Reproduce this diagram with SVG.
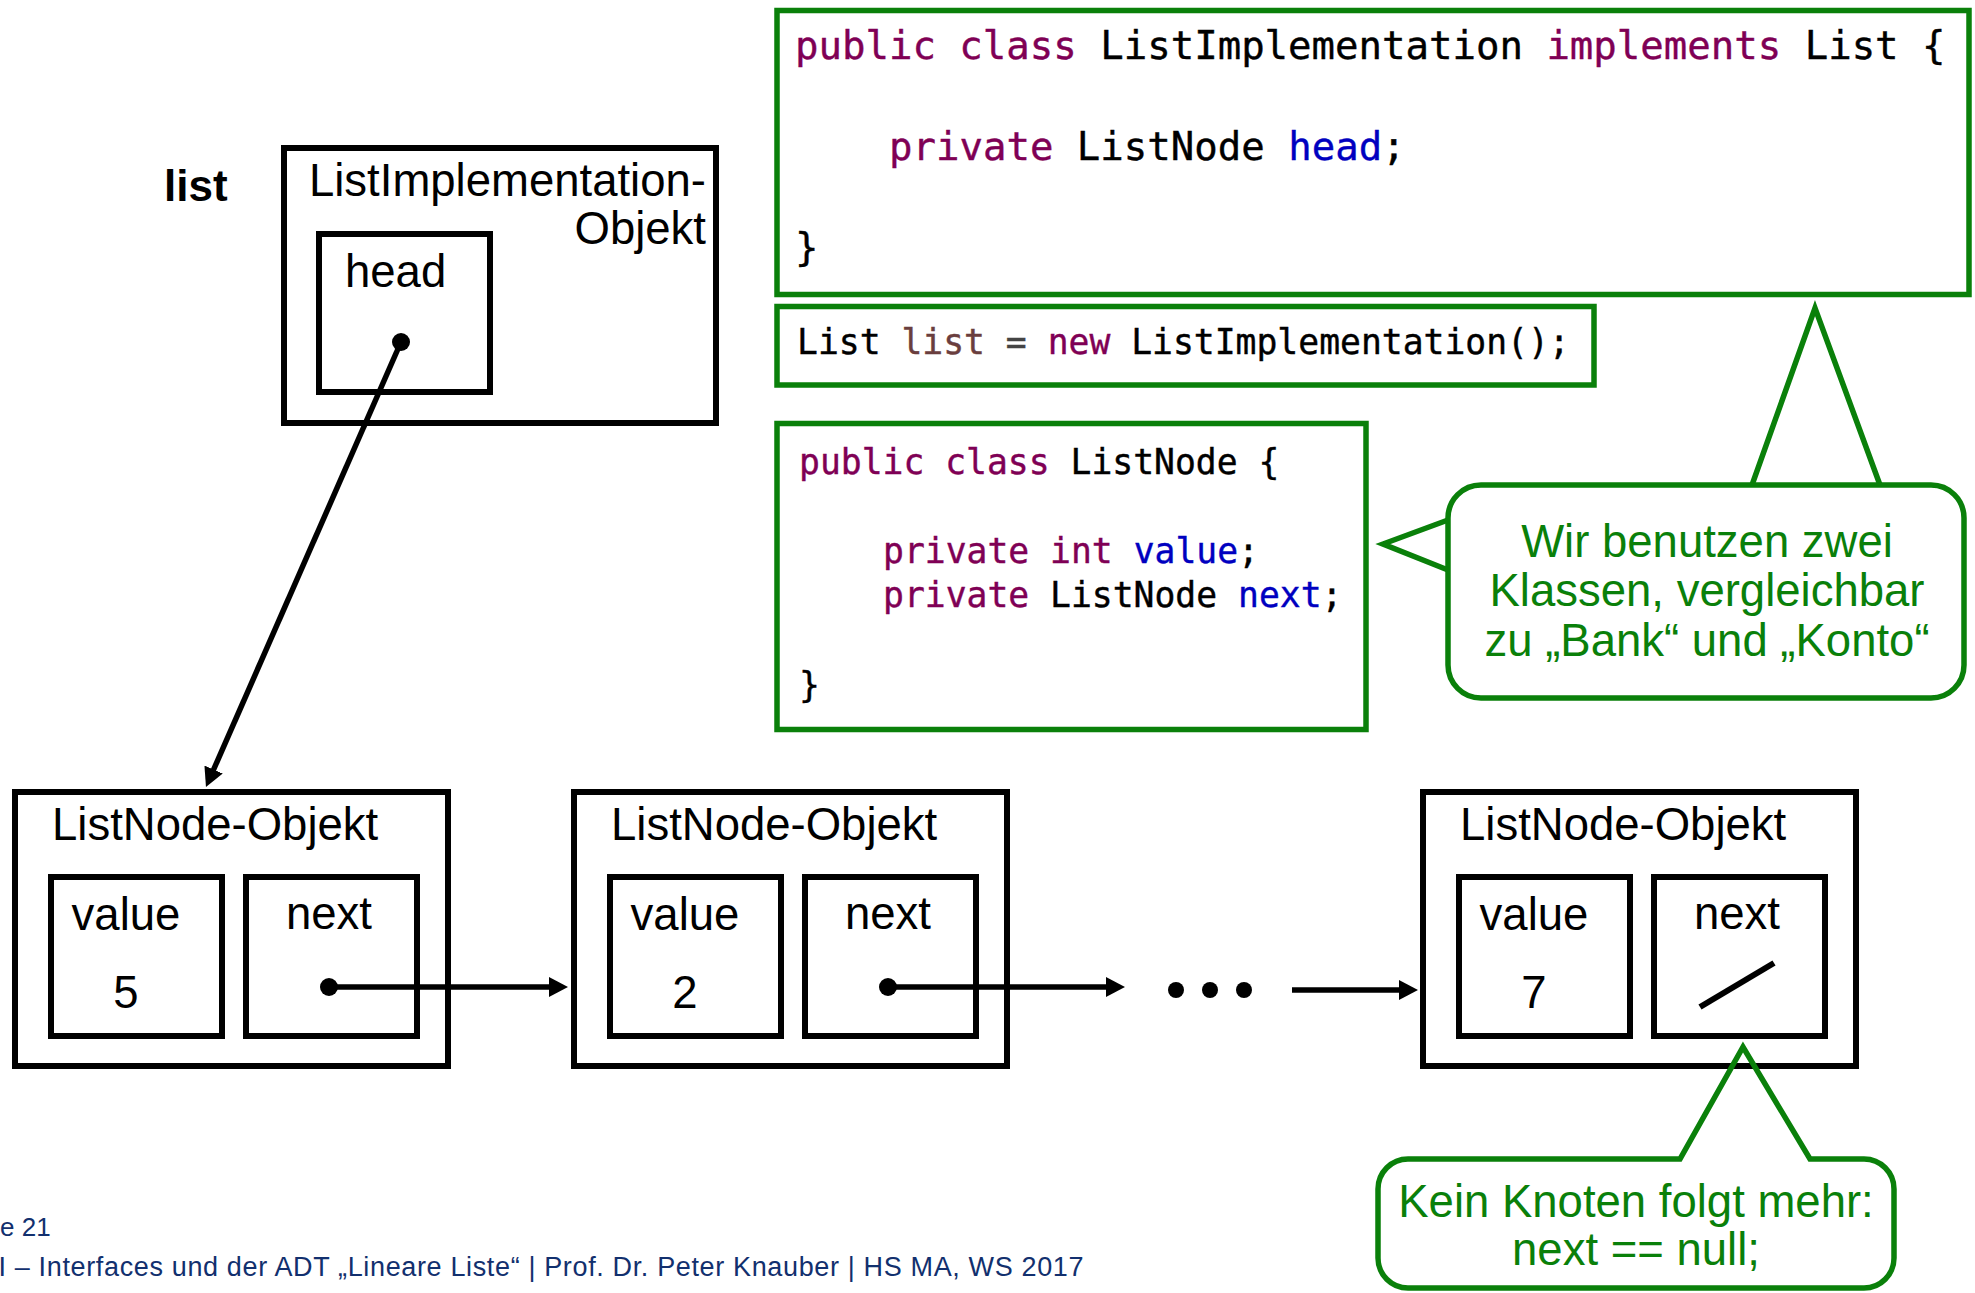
<svg xmlns="http://www.w3.org/2000/svg" width="1975" height="1293" viewBox="0 0 1975 1293">
  <defs>
    <style>
      .box { fill: none; stroke: #000; stroke-width: 6; }
      .code-box { fill: #fff; stroke: #0a800a; stroke-width: 5.5; }
      .note { fill: #fff; stroke: #0a800a; stroke-width: 5.5; stroke-linejoin: miter; }
      .note-open { fill: none; stroke: #0a800a; stroke-width: 5.5; stroke-linejoin: miter; }
      .label { font-family: "Liberation Sans", Arial, Helvetica, sans-serif; font-size: 45.5px; fill: #000; }
      .bold { font-weight: bold; font-size: 44px; }
      .mid { text-anchor: middle; }
      .end { text-anchor: end; }
      .note-text { font-family: "Liberation Sans", Arial, Helvetica, sans-serif; font-size: 45.5px; fill: #0a800a; text-anchor: middle; }
      .code { font-family: "DejaVu Sans Mono", "Liberation Mono", monospace; fill: #000; white-space: pre; stroke: currentColor; stroke-width: 0.4px; }
      .c39 { font-size: 39px; }
      .c35 { font-size: 34.7px; }
      .kw { fill: #7f0055; stroke: #7f0055; }
      .fld { fill: #0000c0; stroke: #0000c0; }
      .var { fill: #6a3e3e; stroke: #6a3e3e; }
      .op { fill: #444; stroke: #444; }
      .dot { fill: #000; }
      .link { stroke: #000; stroke-width: 5.5; fill: none; }
      .footer { font-family: "Liberation Sans", Arial, Helvetica, sans-serif; fill: #12306e; }
    </style>
    <marker id="arrowhead" viewBox="0 0 19 20" refX="1" refY="10" markerWidth="19" markerHeight="20" markerUnits="userSpaceOnUse" orient="auto">
      <path d="M0,0 L19,10 L0,20 Z" fill="#000"/>
    </marker>
  </defs>

  <rect width="1975" height="1293" fill="#fff"/>

  <!-- Java source: ListImplementation -->
  <g id="code-list-implementation">
    <rect class="code-box" x="777" y="10.5" width="1192" height="284"/>
    <text class="code c39" x="795" y="59"><tspan class="kw">public class</tspan> ListImplementation <tspan class="kw">implements</tspan> List {</text>
    <text class="code c39" x="889" y="160"><tspan class="kw">private</tspan> ListNode <tspan class="fld">head</tspan>;</text>
    <text class="code c39" x="795" y="261">}</text>
  </g>

  <!-- Java source: instantiation -->
  <g id="code-list-instantiation">
    <rect class="code-box" x="777" y="306.5" width="817" height="78.5"/>
    <text class="code c35" x="797" y="354">List <tspan class="var">list</tspan> <tspan class="op">=</tspan> <tspan class="kw">new</tspan> ListImplementation();</text>
  </g>

  <!-- Java source: ListNode -->
  <g id="code-list-node">
    <rect class="code-box" x="777" y="423.5" width="589" height="306"/>
    <text class="code c35" x="799" y="474"><tspan class="kw">public class</tspan> ListNode {</text>
    <text class="code c35" x="883" y="563"><tspan class="kw">private int</tspan> <tspan class="fld">value</tspan>;</text>
    <text class="code c35" x="883" y="607"><tspan class="kw">private</tspan> ListNode <tspan class="fld">next</tspan>;</text>
    <text class="code c35" x="799" y="697">}</text>
  </g>

  <!-- Note: two classes -->
  <g id="note-two-classes">
    <path class="note" d="M1481,485 H1931 A33,33 0 0 1 1964,518 V665 A33,33 0 0 1 1931,698 H1481 A33,33 0 0 1 1448,665 V518 A33,33 0 0 1 1481,485 Z"/>
    <polyline class="note-open" points="1752,485 1815,308 1880,485"/>
    <polyline class="note-open" points="1448,520 1383,544 1448,570"/>
    <text class="note-text" x="1707" y="557">Wir benutzen zwei</text>
    <text class="note-text" x="1707" y="606">Klassen, vergleichbar</text>
    <text class="note-text" x="1707" y="656">zu „Bank“ und „Konto“</text>
  </g>

  <!-- Variable name -->
  <g id="list-variable">
    <text class="label bold" x="164" y="201">list</text>
  </g>

  <!-- ListImplementation object -->
  <g id="list-implementation-object">
    <rect class="box" x="284" y="148" width="432" height="275"/>
    <text class="label end" x="706" y="196">ListImplementation-</text>
    <text class="label end" x="706" y="244">Objekt</text>
    <rect class="box" x="319" y="234" width="171" height="158"/>
    <text class="label" x="345" y="287">head</text>
    <circle class="dot" cx="401" cy="342" r="9"/>
  </g>

  <!-- ListNode objects -->
  <g id="node-1">
    <rect class="box" x="15" y="792" width="433" height="274"/>
    <text class="label" x="52" y="840">ListNode-Objekt</text>
    <rect class="box" x="51" y="877" width="171" height="159"/>
    <text class="label mid" x="126" y="930">value</text>
    <text class="label mid" x="126" y="1008">5</text>
    <rect class="box" x="246" y="877" width="171" height="159"/>
    <text class="label mid" x="329" y="929">next</text>
    <circle class="dot" cx="329" cy="987" r="9"/>
  </g>

  <g id="node-2">
    <rect class="box" x="574" y="792" width="433" height="274"/>
    <text class="label" x="611" y="840">ListNode-Objekt</text>
    <rect class="box" x="610" y="877" width="171" height="159"/>
    <text class="label mid" x="685" y="930">value</text>
    <text class="label mid" x="685" y="1008">2</text>
    <rect class="box" x="805" y="877" width="171" height="159"/>
    <text class="label mid" x="888" y="929">next</text>
    <circle class="dot" cx="888" cy="987" r="9"/>
  </g>

  <g id="ellipsis">
    <circle class="dot" cx="1176" cy="990" r="8"/>
    <circle class="dot" cx="1210" cy="990" r="8"/>
    <circle class="dot" cx="1244" cy="990" r="8"/>
  </g>

  <g id="node-3">
    <rect class="box" x="1423" y="792" width="433" height="274"/>
    <text class="label" x="1460" y="840">ListNode-Objekt</text>
    <rect class="box" x="1459" y="877" width="171" height="159"/>
    <text class="label mid" x="1534" y="930">value</text>
    <text class="label mid" x="1534" y="1008">7</text>
    <rect class="box" x="1654" y="877" width="171" height="159"/>
    <text class="label mid" x="1737" y="929">next</text>
    <line x1="1700" y1="1007" x2="1774" y2="963" stroke="#000" stroke-width="6"/>
  </g>

  <!-- Note: null reference -->
  <g id="note-null">
    <path class="note-open" d="M1408,1159 H1680 L1743,1047 L1810,1159 H1864 A30,30 0 0 1 1894,1189 V1258 A30,30 0 0 1 1864,1288 H1408 A30,30 0 0 1 1378,1258 V1189 A30,30 0 0 1 1408,1159 Z"/>
    <text class="note-text" x="1636" y="1217">Kein Knoten folgt mehr:</text>
    <text class="note-text" x="1636" y="1265">next == null;</text>
  </g>

  <!-- References -->
  <g id="connectors">
    <line class="link" x1="401" y1="342" x2="213.2" y2="770.5" stroke-width="5" marker-end="url(#arrowhead)"/>
    <line class="link" x1="329" y1="987" x2="550" y2="987" marker-end="url(#arrowhead)"/>
    <line class="link" x1="888" y1="987" x2="1107" y2="987" marker-end="url(#arrowhead)"/>
    <line class="link" x1="1292" y1="990" x2="1400" y2="990" marker-end="url(#arrowhead)"/>
  </g>

  <!-- Slide footer -->
  <g id="footer">
    <text class="footer" x="0" y="1236" font-size="26">e 21</text>
    <text class="footer" x="-1.5" y="1276" font-size="27" textLength="1085" lengthAdjust="spacing">I – Interfaces und der ADT „Lineare Liste“ | Prof. Dr. Peter Knauber | HS MA, WS 2017</text>
  </g>
</svg>
